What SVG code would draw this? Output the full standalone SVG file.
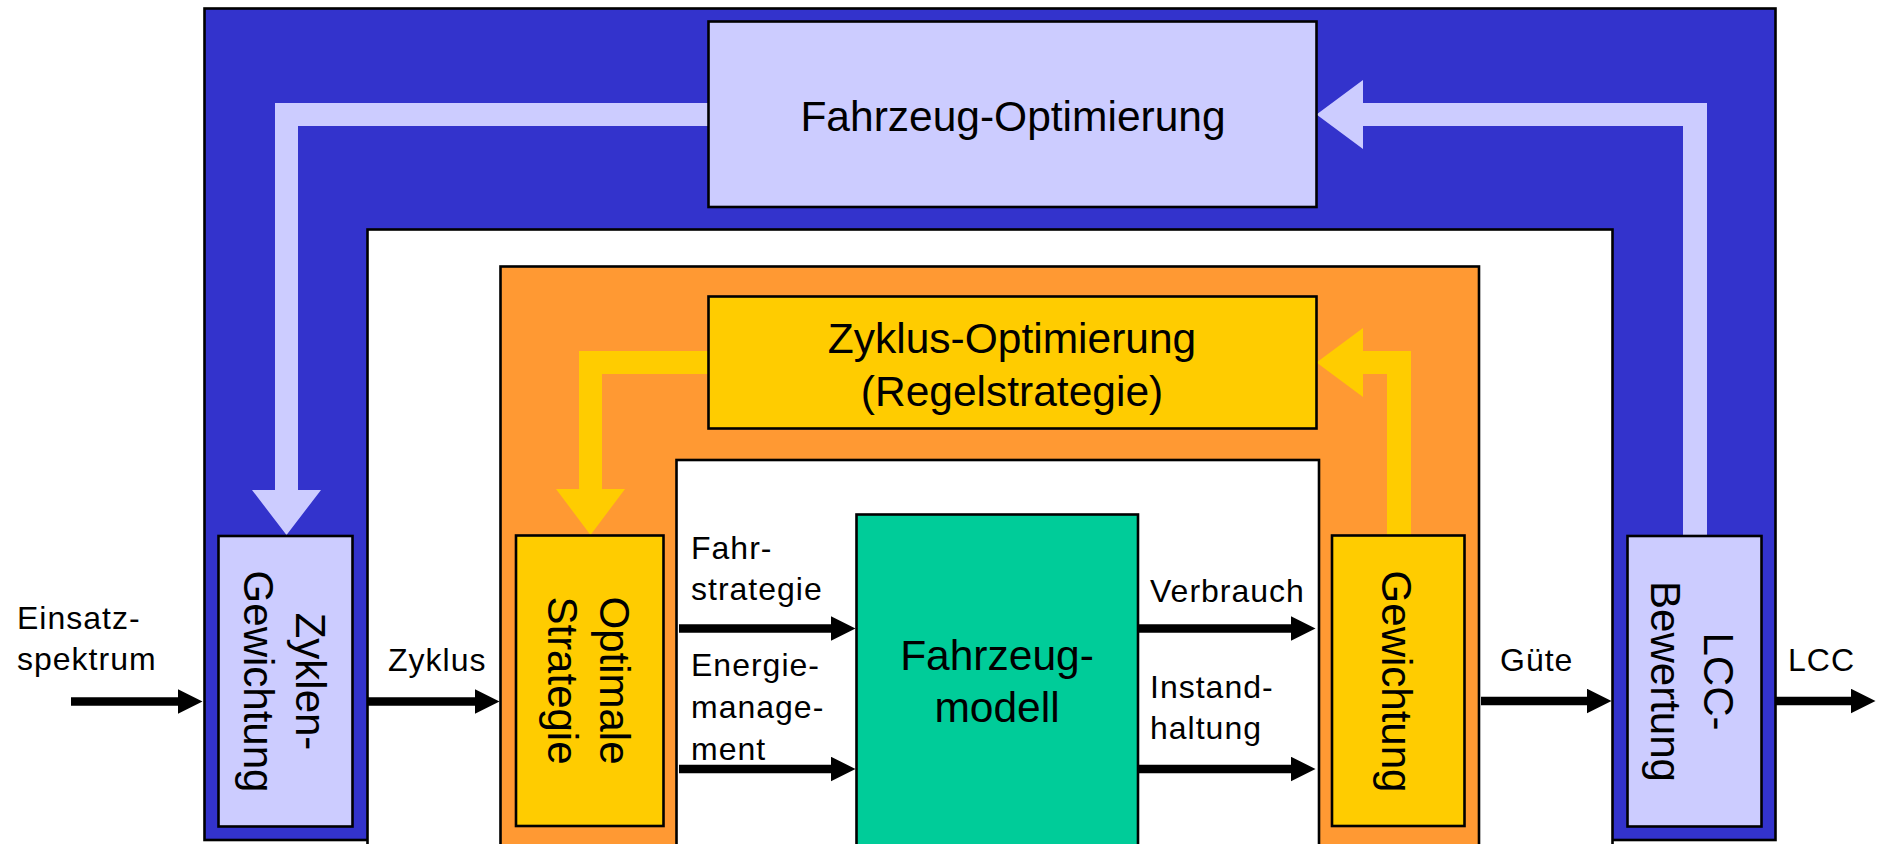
<svg xmlns="http://www.w3.org/2000/svg" width="1879" height="844" viewBox="0 0 1879 844">
<style>
  .box { stroke: #000; stroke-width: 2.6; }
  .blue { fill: #3333CC; }
  .light { fill: #CCCCFF; }
  .orange { fill: #FF9933; }
  .yellow { fill: #FFCC00; }
  .green { fill: #00CC99; }
  .white { fill: #FFFFFF; }
  text { font-family: "Liberation Sans", Arial, Helvetica, sans-serif; fill: #000; }
  .title { font-size: 42.5px; text-anchor: middle; }
  .rot { font-size: 42px; text-anchor: middle; }
  .lbl { font-size: 32px; letter-spacing: 1px; }
  .shaft { stroke: #000; stroke-width: 8.5; fill: none; marker-end: url(#ah); }
  .band-light { fill: #CCCCFF; }
  .band-yellow { fill: #FFCC00; }
</style>
<defs>
  <marker id="ah" viewBox="0 0 25 25" markerWidth="25" markerHeight="25" refX="0.5" refY="12.5" markerUnits="userSpaceOnUse" orient="auto">
    <path d="M0,0 L25,12.5 L0,25 Z" fill="#000"/>
  </marker>
</defs>
<rect width="1879" height="844" fill="#FFFFFF"/>

<g id="vehicle-loop">
  <rect class="box blue" x="204.5" y="8.5" width="1571" height="831.5"/>
</g>
<g id="vehicle-inner-area">
  <rect class="box white" x="367.5" y="229.5" width="1245" height="700"/>
</g>
<g id="cycle-loop">
  <rect class="box orange" x="500.5" y="266.5" width="978.5" height="700"/>
</g>
<g id="model-area">
  <rect class="box white" x="676.5" y="460" width="642.5" height="700"/>
</g>

<g id="connectors">
  <polygon class="band-light" points="708,103 275,103 275,490 252,490 286.5,535 321,490 298,490 298,126 708,126"/>
  <polygon class="band-light" points="1683,536 1683,126 1363,126 1363,149 1316.5,114.5 1363,80 1363,103 1707,103 1707,536"/>
  <polygon class="band-yellow" points="708,351 579,351 579,489 556,489 590.5,535 625,489 602,489 602,374 708,374"/>
  <polygon class="band-yellow" points="1387,535 1387,374 1363,374 1363,397 1316.5,362.5 1363,328 1363,351 1411,351 1411,535"/>
  <line class="shaft" x1="71" y1="701.5" x2="178" y2="701.5"/>
  <line class="shaft" x1="368" y1="701.5" x2="475" y2="701.5"/>
  <line class="shaft" x1="679" y1="628.5" x2="831" y2="628.5"/>
  <line class="shaft" x1="679" y1="769" x2="831" y2="769"/>
  <line class="shaft" x1="1138" y1="628.5" x2="1291" y2="628.5"/>
  <line class="shaft" x1="1138" y1="769" x2="1291" y2="769"/>
  <line class="shaft" x1="1481" y1="701" x2="1587" y2="701"/>
  <line class="shaft" x1="1776" y1="701" x2="1851" y2="701"/>
</g>

<g id="fahrzeug-optimierung">
  <rect class="box light" x="708.5" y="21.5" width="608" height="185.5"/>
  <text class="title" x="1013" y="131">Fahrzeug-Optimierung</text>
</g>
<g id="zyklus-optimierung">
  <rect class="box yellow" x="708.5" y="296.5" width="608" height="132"/>
  <text class="title" x="1012" y="353">Zyklus-Optimierung</text>
  <text class="title" x="1012" y="406">(Regelstrategie)</text>
</g>
<g id="fahrzeugmodell">
  <rect class="box green" x="856.5" y="514.5" width="281.5" height="400"/>
  <text class="title" x="997" y="670">Fahrzeug-</text>
  <text class="title" x="997" y="722">modell</text>
</g>
<g id="zyklen-gewichtung">
  <rect class="box light" x="218.5" y="536" width="134" height="290.5"/>
  <g transform="translate(285.5,681.5) rotate(90)">
    <text class="rot" x="0" y="-10">Zyklen-</text>
    <text class="rot" x="0" y="42">Gewichtung</text>
  </g>
</g>
<g id="optimale-strategie">
  <rect class="box yellow" x="516" y="535.5" width="147.5" height="290.5"/>
  <g transform="translate(589.7,680.5) rotate(90)">
    <text class="rot" x="0" y="-10">Optimale</text>
    <text class="rot" x="0" y="42">Strategie</text>
  </g>
</g>
<g id="gewichtung">
  <rect class="box yellow" x="1332" y="535.5" width="132.5" height="290.5"/>
  <g transform="translate(1398,681.5) rotate(90)">
    <text class="rot" x="0" y="16">Gewichtung</text>
  </g>
</g>
<g id="lcc-bewertung">
  <rect class="box light" x="1627.5" y="536" width="134" height="290.5"/>
  <g transform="translate(1694.3,681.5) rotate(90)">
    <text class="rot" x="0" y="-9.5">LCC-</text>
    <text class="rot" x="0" y="43.5">Bewertung</text>
  </g>
</g>

<g id="labels">
  <text class="lbl" x="17" y="629">Einsatz-</text>
  <text class="lbl" x="17" y="670">spektrum</text>
  <text class="lbl" x="388" y="671">Zyklus</text>
  <text class="lbl" x="691" y="559">Fahr-</text>
  <text class="lbl" x="691" y="600">strategie</text>
  <text class="lbl" x="691" y="676">Energie-</text>
  <text class="lbl" x="691" y="718">manage-</text>
  <text class="lbl" x="691" y="759.5">ment</text>
  <text class="lbl" x="1150" y="602">Verbrauch</text>
  <text class="lbl" x="1150" y="698">Instand-</text>
  <text class="lbl" x="1150" y="739">haltung</text>
  <text class="lbl" x="1500" y="671">Güte</text>
  <text class="lbl" x="1788" y="671">LCC</text>
</g>
</svg>
